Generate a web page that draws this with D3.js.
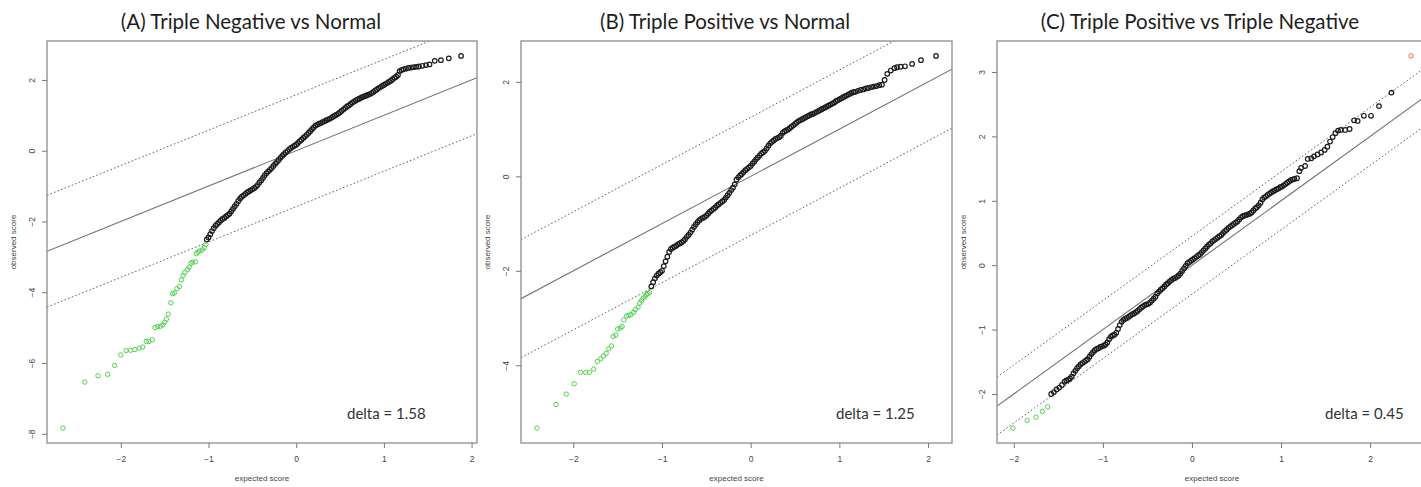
<!DOCTYPE html>
<html>
<head>
<meta charset="utf-8">
<script src="https://cdn.jsdelivr.net/npm/d3@7"></script>
<style>
  body { margin: 0; background: #fff; }
  svg { display: block; background: #fff; }
</style>
</head>
<body>
<svg id="chart" width="1421" height="487"></svg>
<script>
// SAM plots: observed vs expected relative difference scores for three comparisons.
const panelTitles = [
  "(A) Triple Negative vs Normal",
  "(B) Triple Positive vs Normal",
  "(C) Triple Positive vs Triple Negative"
];
const deltas = [1.58, 1.25, 0.45];
const xTickValues = [[-2, -1, 0, 1, 2], [-2, -1, 0, 1, 2], [-2, -1, 0, 1, 2]];
const yTickValues = [[-8, -6, -4, -2, 0, 2], [-4, -2, 0, 2], [-2, -1, 0, 1, 2, 3]];
const xAxisTitle = "expected score";
const yAxisTitle = "observed score";

// (A) significant down-regulated genes
const aDownExpected = [-2.66, -2.41, -2.26, -2.15, -2.07, -2.00, -1.94, -1.89, -1.84, -1.79,
  -1.75, -1.71, -1.68, -1.64, -1.61, -1.58, -1.55, -1.52, -1.50, -1.48,
  -1.46, -1.43, -1.41, -1.39, -1.36, -1.33, -1.31, -1.29, -1.27, -1.24,
  -1.22, -1.20, -1.18, -1.15, -1.14, -1.12, -1.10, -1.07, -1.05, -1.03];
const aDownObserved = [-7.84, -6.54, -6.36, -6.32, -6.07, -5.77, -5.65, -5.64, -5.62, -5.58,
  -5.55, -5.39, -5.39, -5.34, -5.00, -4.97, -4.96, -4.92, -4.85, -4.76,
  -4.62, -4.30, -4.04, -4.02, -3.90, -3.84, -3.65, -3.53, -3.44, -3.36,
  -3.29, -3.18, -3.15, -3.14, -2.91, -2.87, -2.83, -2.80, -2.74, -2.65];
// (A) remaining genes
const aExpected = [-1.02, -1.00, -0.98, -0.96, -0.94, -0.92, -0.90, -0.88, -0.86, -0.84,
  -0.82, -0.80, -0.78, -0.76, -0.74, -0.72, -0.70, -0.68, -0.66, -0.64,
  -0.62, -0.60, -0.58, -0.56, -0.54, -0.52, -0.50, -0.48, -0.46, -0.44,
  -0.42, -0.40, -0.38, -0.36, -0.34, -0.32, -0.30, -0.28, -0.26, -0.24,
  -0.22, -0.20, -0.18, -0.16, -0.14, -0.12, -0.10, -0.08, -0.06, -0.04,
  -0.02, 0.00, 0.02, 0.04, 0.06, 0.08, 0.10, 0.12, 0.14, 0.16,
  0.18, 0.20, 0.22, 0.24, 0.26, 0.28, 0.30, 0.32, 0.34, 0.36,
  0.38, 0.40, 0.42, 0.44, 0.46, 0.48, 0.50, 0.52, 0.54, 0.56,
  0.58, 0.60, 0.62, 0.64, 0.66, 0.68, 0.70, 0.72, 0.74, 0.76,
  0.78, 0.80, 0.82, 0.84, 0.86, 0.88, 0.90, 0.92, 0.94, 0.96,
  0.98, 1.00, 1.02, 1.04, 1.06, 1.08, 1.10, 1.12, 1.14, 1.16,
  1.18, 1.20, 1.22, 1.25, 1.28, 1.31, 1.34, 1.37, 1.40, 1.44,
  1.48, 1.52, 1.58, 1.65, 1.74, 1.88];
const aObserved = [-2.51, -2.45, -2.36, -2.27, -2.19, -2.12, -2.07, -2.02, -1.97, -1.93,
  -1.90, -1.86, -1.82, -1.78, -1.71, -1.64, -1.57, -1.50, -1.42, -1.35,
  -1.30, -1.26, -1.22, -1.18, -1.15, -1.12, -1.09, -1.06, -1.02, -0.97,
  -0.90, -0.84, -0.77, -0.70, -0.64, -0.59, -0.54, -0.49, -0.43, -0.37,
  -0.32, -0.26, -0.20, -0.15, -0.10, -0.05, -0.01, 0.04, 0.08, 0.11,
  0.14, 0.17, 0.22, 0.27, 0.31, 0.36, 0.40, 0.45, 0.50, 0.55,
  0.61, 0.66, 0.71, 0.74, 0.76, 0.78, 0.81, 0.83, 0.86, 0.88,
  0.90, 0.93, 0.96, 0.99, 1.02, 1.05, 1.09, 1.13, 1.17, 1.21,
  1.25, 1.28, 1.32, 1.36, 1.39, 1.42, 1.45, 1.47, 1.50, 1.52,
  1.54, 1.56, 1.58, 1.60, 1.63, 1.66, 1.70, 1.73, 1.77, 1.80,
  1.83, 1.86, 1.89, 1.92, 1.95, 1.98, 2.02, 2.06, 2.09, 2.14,
  2.25, 2.28, 2.30, 2.32, 2.34, 2.35, 2.36, 2.37, 2.38, 2.40,
  2.42, 2.44, 2.54, 2.56, 2.61, 2.68];

// (B) significant down-regulated genes
const bDownExpected = [-2.41, -2.195, -2.08, -1.99, -1.92, -1.86, -1.82, -1.77, -1.73, -1.69,
  -1.66, -1.63, -1.60, -1.57, -1.55, -1.52, -1.50, -1.47, -1.45, -1.43,
  -1.40, -1.375, -1.35, -1.32, -1.30, -1.27, -1.25, -1.23, -1.21, -1.19,
  -1.175, -1.16, -1.14];
const bDownObserved = [-5.33, -4.83, -4.61, -4.39, -4.15, -4.15, -4.15, -4.08, -3.92, -3.86,
  -3.80, -3.75, -3.65, -3.59, -3.39, -3.36, -3.23, -3.21, -3.18, -3.04,
  -2.96, -2.94, -2.93, -2.88, -2.82, -2.77, -2.68, -2.63, -2.58, -2.54,
  -2.50, -2.48, -2.46];
// (B) remaining genes
const bExpected = [-1.12, -1.10, -1.08, -1.06, -1.04, -1.02, -1.00, -0.98, -0.96, -0.94,
  -0.92, -0.90, -0.88, -0.86, -0.84, -0.82, -0.80, -0.78, -0.76, -0.74,
  -0.72, -0.70, -0.68, -0.66, -0.64, -0.62, -0.60, -0.58, -0.56, -0.54,
  -0.52, -0.50, -0.48, -0.46, -0.44, -0.42, -0.40, -0.38, -0.36, -0.34,
  -0.32, -0.30, -0.28, -0.26, -0.24, -0.22, -0.20, -0.18, -0.16, -0.14,
  -0.12, -0.10, -0.08, -0.06, -0.04, -0.02, 0.00, 0.02, 0.04, 0.06,
  0.08, 0.10, 0.12, 0.14, 0.16, 0.18, 0.20, 0.22, 0.24, 0.26,
  0.28, 0.30, 0.32, 0.34, 0.36, 0.38, 0.40, 0.42, 0.44, 0.46,
  0.48, 0.50, 0.52, 0.54, 0.56, 0.58, 0.60, 0.62, 0.64, 0.66,
  0.68, 0.70, 0.72, 0.74, 0.76, 0.78, 0.80, 0.82, 0.84, 0.86,
  0.88, 0.90, 0.92, 0.94, 0.96, 0.98, 1.00, 1.02, 1.04, 1.06,
  1.08, 1.10, 1.12, 1.14, 1.16, 1.18, 1.21, 1.24, 1.27, 1.30,
  1.33, 1.36, 1.39, 1.42, 1.45, 1.48, 1.51, 1.54, 1.58, 1.62,
  1.65, 1.69, 1.74, 1.82, 1.92, 2.09];
const bObserved = [-2.33, -2.24, -2.16, -2.10, -2.06, -2.03, -2.00, -1.90, -1.80, -1.70,
  -1.60, -1.54, -1.51, -1.49, -1.47, -1.44, -1.42, -1.40, -1.37, -1.33,
  -1.28, -1.24, -1.19, -1.13, -1.07, -1.02, -0.97, -0.93, -0.90, -0.88,
  -0.86, -0.83, -0.79, -0.75, -0.72, -0.69, -0.66, -0.62, -0.59, -0.56,
  -0.53, -0.50, -0.45, -0.40, -0.35, -0.29, -0.24, -0.17, -0.07, -0.02,
  0.02, 0.05, 0.09, 0.13, 0.16, 0.19, 0.22, 0.27, 0.31, 0.36,
  0.40, 0.44, 0.48, 0.51, 0.54, 0.59, 0.65, 0.70, 0.73, 0.76,
  0.79, 0.81, 0.83, 0.86, 0.92, 0.95, 0.97, 0.99, 1.02, 1.05,
  1.08, 1.11, 1.14, 1.17, 1.19, 1.21, 1.23, 1.25, 1.27, 1.29,
  1.31, 1.32, 1.34, 1.36, 1.38, 1.40, 1.42, 1.44, 1.46, 1.48,
  1.50, 1.52, 1.54, 1.56, 1.59, 1.61, 1.63, 1.65, 1.67, 1.69,
  1.71, 1.73, 1.75, 1.77, 1.78, 1.79, 1.81, 1.83, 1.84, 1.86,
  1.87, 1.89, 1.90, 1.91, 1.93, 1.94, 2.04, 2.17, 2.24, 2.29,
  2.31, 2.32, 2.33, 2.38, 2.46, 2.55];

// (C) significant down-regulated genes
const cDownExpected = [-2.01, -1.85, -1.75, -1.68, -1.62];
const cDownObserved = [-2.53, -2.41, -2.36, -2.27, -2.20];
// (C) significant up-regulated genes
const cUpExpected = [2.46];
const cUpObserved = [3.25];
// (C) remaining genes
const cExpected = [-1.58, -1.55, -1.52, -1.49, -1.46, -1.43, -1.41, -1.39, -1.37, -1.35,
  -1.33, -1.31, -1.29, -1.27, -1.25, -1.23, -1.21, -1.19, -1.17, -1.15,
  -1.13, -1.11, -1.09, -1.07, -1.05, -1.03, -1.01, -0.99, -0.97, -0.95,
  -0.93, -0.91, -0.89, -0.87, -0.85, -0.83, -0.81, -0.79, -0.77, -0.75,
  -0.73, -0.71, -0.69, -0.67, -0.65, -0.63, -0.61, -0.59, -0.57, -0.55,
  -0.53, -0.51, -0.49, -0.47, -0.45, -0.43, -0.41, -0.39, -0.37, -0.35,
  -0.33, -0.31, -0.29, -0.27, -0.25, -0.23, -0.21, -0.19, -0.17, -0.15,
  -0.13, -0.11, -0.09, -0.07, -0.05, -0.03, -0.01, 0.01, 0.03, 0.05,
  0.07, 0.09, 0.11, 0.13, 0.15, 0.17, 0.19, 0.21, 0.23, 0.25,
  0.27, 0.29, 0.31, 0.33, 0.35, 0.37, 0.39, 0.41, 0.43, 0.45,
  0.47, 0.49, 0.51, 0.53, 0.55, 0.57, 0.59, 0.61, 0.63, 0.65,
  0.67, 0.69, 0.71, 0.73, 0.75, 0.77, 0.79, 0.81, 0.83, 0.85,
  0.87, 0.89, 0.91, 0.93, 0.95, 0.97, 0.99, 1.01, 1.03, 1.05,
  1.07, 1.09, 1.11, 1.13, 1.15, 1.18, 1.205, 1.225, 1.27, 1.30,
  1.34, 1.37, 1.41, 1.45, 1.49, 1.52, 1.55, 1.58, 1.61, 1.64,
  1.67, 1.72, 1.77, 1.82, 1.86, 1.93, 2.01, 2.10, 2.24];
const cObserved = [-2.00, -1.97, -1.93, -1.90, -1.86, -1.81, -1.79, -1.78, -1.76, -1.73,
  -1.68, -1.64, -1.60, -1.57, -1.54, -1.52, -1.50, -1.48, -1.46, -1.42,
  -1.38, -1.35, -1.32, -1.30, -1.29, -1.27, -1.26, -1.25, -1.23, -1.20,
  -1.15, -1.11, -1.09, -1.08, -1.05, -0.99, -0.93, -0.88, -0.85, -0.83,
  -0.82, -0.80, -0.78, -0.76, -0.75, -0.73, -0.71, -0.685, -0.66, -0.64,
  -0.62, -0.61, -0.60, -0.58, -0.55, -0.52, -0.49, -0.44, -0.41, -0.38,
  -0.36, -0.33, -0.30, -0.28, -0.25, -0.23, -0.21, -0.20, -0.18, -0.16,
  -0.13, -0.09, -0.05, -0.01, 0.03, 0.05, 0.07, 0.09, 0.11, 0.13,
  0.15, 0.17, 0.20, 0.23, 0.26, 0.29, 0.32, 0.34, 0.37, 0.39,
  0.41, 0.43, 0.45, 0.47, 0.50, 0.53, 0.55, 0.58, 0.60, 0.62,
  0.64, 0.66, 0.68, 0.71, 0.74, 0.76, 0.77, 0.78, 0.79, 0.80,
  0.82, 0.85, 0.88, 0.90, 0.93, 0.97, 1.02, 1.05, 1.07, 1.09,
  1.11, 1.13, 1.15, 1.16, 1.18, 1.19, 1.21, 1.22, 1.24, 1.26,
  1.28, 1.30, 1.32, 1.33, 1.34, 1.35, 1.46, 1.51, 1.54, 1.65,
  1.66, 1.69, 1.72, 1.75, 1.79, 1.84, 1.92, 1.99, 2.05, 2.09,
  2.10, 2.10, 2.115, 2.25, 2.24, 2.32, 2.32, 2.47, 2.68];

const colors = { none: "#1c1c1c", down: "#4fd24f", up: "#f06060" };

const panels = [
  { groups: [
      { x: aExpected, y: aObserved, color: colors.none },
      { x: aDownExpected, y: aDownObserved, color: colors.down } ] },
  { groups: [
      { x: bExpected, y: bObserved, color: colors.none },
      { x: bDownExpected, y: bDownObserved, color: colors.down } ] },
  { groups: [
      { x: cExpected, y: cObserved, color: colors.none },
      { x: cDownExpected, y: cDownObserved, color: colors.down },
      { x: cUpExpected, y: cUpObserved, color: colors.up } ] }
];

// plot-region geometry (pixels)
const frames = [
  { left: 47,  top: 41, width: 430, height: 402, titleX: 251,  deltaX: 347 },
  { left: 521, top: 41, width: 431, height: 402, titleX: 725,  deltaX: 836 },
  { left: 997, top: 41, width: 430, height: 402, titleX: 1200, deltaX: 1325 }
];

const svg = d3.select("#chart");
const minus = d => String(d).replace("-", "\u2212");
const smallFont = "'Liberation Sans', Arial, Helvetica, sans-serif";
const bigFont = "Lato, 'Open Sans', sans-serif";

// R-style axis extent: data range padded by 4% on each side
function paddedDomain(values) {
  const [lo, hi] = d3.extent(values);
  const pad = (hi - lo) * 0.04;
  return [lo - pad, hi + pad];
}

panels.forEach((panel, i) => {
  const f = frames[i];
  const allX = panel.groups.flatMap(g => g.x);
  const allY = panel.groups.flatMap(g => g.y);
  const x = d3.scaleLinear().domain(paddedDomain(allX)).range([0, f.width]);
  const y = d3.scaleLinear().domain(paddedDomain(allY)).range([f.height, 0]);

  const g = svg.append("g").attr("transform", `translate(${f.left},${f.top})`);

  const clipId = `clip-${i}`;
  g.append("clipPath").attr("id", clipId)
    .append("rect").attr("width", f.width).attr("height", f.height);

  // reference line y = x and the delta band
  const [xd0, xd1] = x.domain();
  const plot = g.append("g").attr("clip-path", `url(#${clipId})`);
  [-deltas[i], 0, deltas[i]].forEach(off => {
    plot.append("line")
      .attr("x1", x(xd0)).attr("y1", y(xd0 + off))
      .attr("x2", x(xd1)).attr("y2", y(xd1 + off))
      .attr("stroke", off === 0 ? "#707070" : "#606060")
      .attr("stroke-width", off === 0 ? 1.1 : 1)
      .attr("stroke-dasharray", off === 0 ? null : "1.6,2.2");
  });

  // genes
  panel.groups.forEach(grp => {
    const dark = grp.color === colors.none;
    plot.append("g").selectAll("circle")
      .data(d3.range(grp.x.length))
      .join("circle")
      .attr("cx", k => x(grp.x[k]))
      .attr("cy", k => y(grp.y[k]))
      .attr("r", dark ? 2.3 : 2.2)
      .attr("fill", "none")
      .attr("stroke", grp.color)
      .attr("stroke-width", dark ? 1.2 : 1);
  });

  // frame
  g.append("rect")
    .attr("width", f.width).attr("height", f.height)
    .attr("fill", "none").attr("stroke", "#8c8c8c").attr("stroke-width", 1.3);

  // x axis
  const xAxis = g.append("g")
    .attr("transform", `translate(0,${f.height})`)
    .call(d3.axisBottom(x).tickValues(xTickValues[i]).tickSize(5).tickPadding(8).tickFormat(minus));
  xAxis.select(".domain").remove();
  xAxis.selectAll("line").attr("stroke", "#777");
  xAxis.selectAll("text").attr("fill", "#444").style("font", `8.5px ${smallFont}`);

  // y axis with labels parallel to the axis
  const yAxis = g.append("g")
    .call(d3.axisLeft(y).tickValues(yTickValues[i]).tickSize(5).tickFormat(minus));
  yAxis.select(".domain").remove();
  yAxis.selectAll("line").attr("stroke", "#777");
  yAxis.selectAll("text")
    .attr("x", null).attr("dy", null)
    .attr("text-anchor", "middle")
    .attr("transform", "translate(-15,0) rotate(-90)")
    .attr("dy", "0.35em")
    .attr("fill", "#444").style("font", `8.5px ${smallFont}`);

  // axis titles
  g.append("text")
    .attr("x", f.width / 2).attr("y", f.height + 38)
    .attr("text-anchor", "middle").attr("fill", "#444")
    .style("font", `8px ${smallFont}`)
    .text(xAxisTitle);
  g.append("text")
    .attr("transform", `translate(-34,${f.height / 2}) rotate(-90)`)
    .attr("text-anchor", "middle").attr("dy", "0.35em").attr("fill", "#444")
    .style("font", `8px ${smallFont}`)
    .text(yAxisTitle);

  // panel title
  svg.append("text")
    .attr("x", f.titleX).attr("y", 29)
    .attr("text-anchor", "middle").attr("fill", "#1e1e1e")
    .style("font", `20.5px ${bigFont}`)
    .text(panelTitles[i]);

  // delta annotation
  svg.append("text")
    .attr("x", f.deltaX).attr("y", 419)
    .attr("fill", "#333")
    .style("font", `15px ${bigFont}`)
    .text(`delta = ${deltas[i].toFixed(2)}`);
});
</script>
</body>
</html>
